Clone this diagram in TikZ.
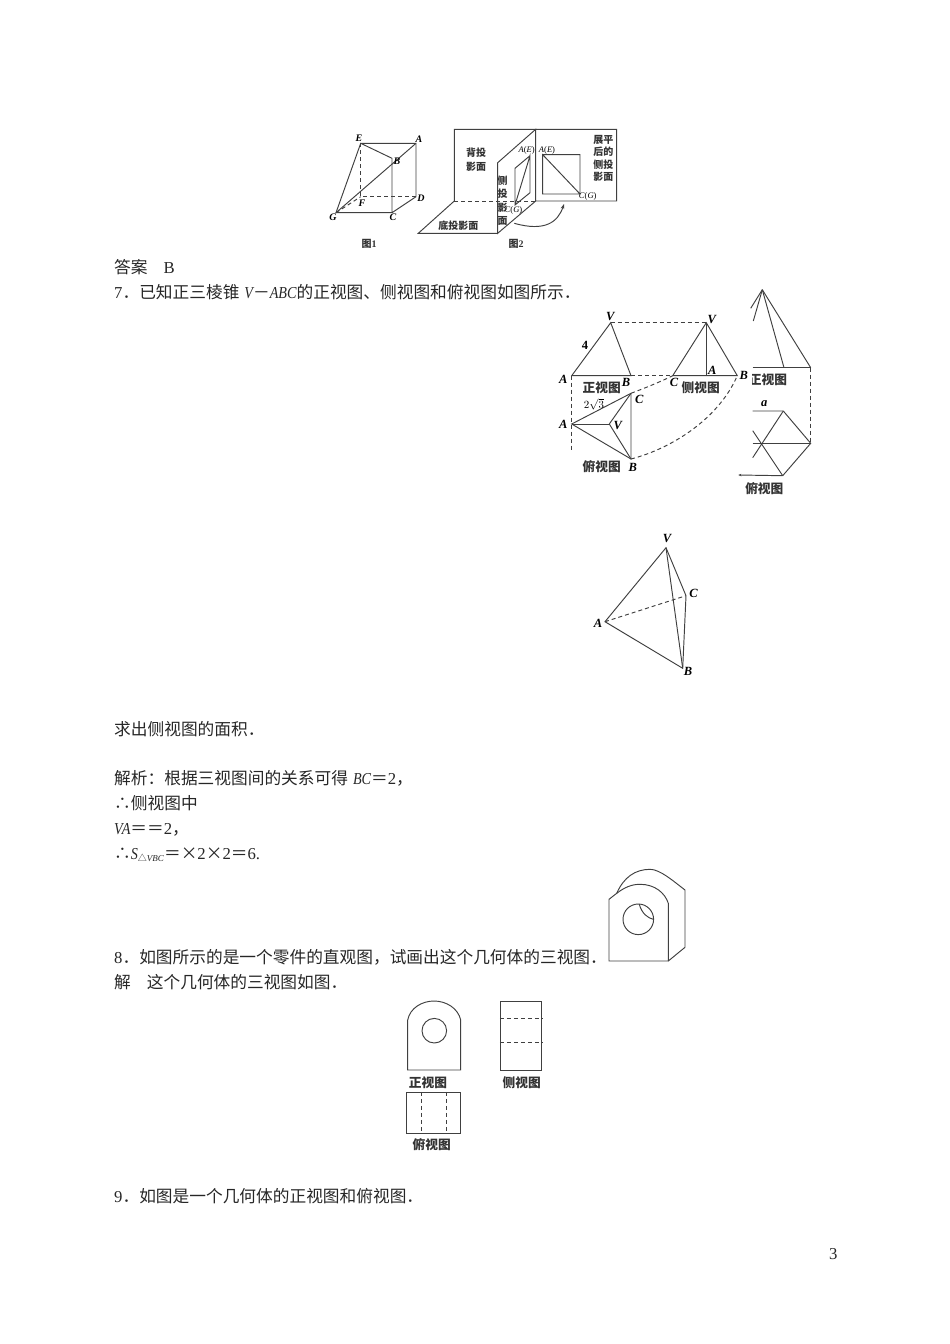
\documentclass[tikz,border=0pt]{standalone}
\usepackage{fontspec}
\usetikzlibrary{arrows.meta}
\setmainfont{Liberation Serif}
\newfontfamily\zhfont{Noto Sans CJK SC}
\newcommand{\zh}[1]{{\zhfont #1}}
\newcommand{\vx}[1]{{\bfseries\itshape #1}}
\newcommand{\lat}[1]{\scalebox{0.85}[1]{\itshape #1}}
\tikzset{
    lineb/.style={line width=0.95pt, black!75},
    dashb/.style={line width=0.95pt, black!75, dash pattern=on 4pt off 3pt},
    bodyline/.style={anchor=base west, inner sep=0pt, black!85, font=\fontsize{16.7}{18}\selectfont},
    vxsmall/.style={inner sep=0pt, font=\fontsize{10}{10}\selectfont},
    vxbig/.style={inner sep=0pt, font=\fontsize{12.5}{13}\selectfont},
    tagsmall/.style={inner sep=0pt, font=\fontsize{8.5}{9}\selectfont},
    capsmall/.style={inner sep=0pt, black!80, font=\fontsize{10}{10.5}\selectfont\bfseries, align=center},
    capbig/.style={inner sep=0pt, black!80, font=\fontsize{12.7}{13}\selectfont\bfseries}
}

\begin{document}
\begin{tikzpicture}[x=1pt, y=-1pt]
    \useasboundingbox (0,0) rectangle (950,1344);

    % Body text
    \node[bodyline] (ans) at (114,273.5) {\zh{答案}\hspace{16pt}B};
    \node[bodyline] (q7) at (114,298.5) {7\zh{．已知正三棱锥}\hspace{5pt}\lat{V}\zh{－}\lat{ABC}\zh{的正视图、侧视图和俯视图如图所示．}};
    \node[bodyline] (area) at (114,735) {\zh{求出侧视图的面积．}};
    \node[bodyline] (sol) at (114,784.5) {\zh{解析：根据三视图间的关系可得}\hspace{5pt}\lat{BC}\zh{＝}2\zh{，}};
    \node[bodyline] (tf1) at (114,809.5) {\zh{∴侧视图中}};
    \node[bodyline] (tf2) at (114,834) {\lat{VA}\zh{＝＝}2\zh{，}};
    \node[bodyline] (tf3) at (114,859) {\zh{∴}\lat{S}{\fontsize{9}{9}\selectfont\raisebox{-2pt}{\zh{△}\emph{VBC}}}\zh{＝×}2\zh{×}2\zh{＝}6.};
    \node[bodyline] (q8) at (114,963.5) {8\zh{．如图所示的是一个零件的直观图，试画出这个几何体的三视图．}};
    \node[bodyline] (ans8) at (114,988.5) {\zh{解}\hspace{16pt}\zh{这个几何体的三视图如图．}};
    \node[bodyline] (q9) at (114,1202.5) {9\zh{．如图是一个几何体的正视图和俯视图．}};
    \node[bodyline] (pagenum) at (829,1259.5) {3};

    % Figure 1: the cube
    \coordinate (E) at (360.7,143.3);
    \coordinate (A) at (416,143.3);
    \coordinate (B) at (392,158.3);
    \coordinate (G) at (336,212.7);
    \coordinate (C) at (392,212.7);
    \coordinate (D) at (416,196.7);
    \coordinate (F) at (360.7,196.7);
    \draw[lineb] (E) -- (A) -- (D) -- (C) -- (G) -- (E) -- (B) -- (C);
    \draw[lineb] (G) -- (A);
    \draw[dashb] (E) -- (F) -- (D);
    \draw[dashb] (G) -- (F);
    \foreach \name/\x/\y in {E/359/138, A/419/139, B/397/161, G/333/217, F/362/203, C/393/217, D/421/198} {
        \node[vxsmall] (lbl\name) at (\x,\y) {\vx{\name}};
    }
    \node[capsmall] (cap1) at (369,244) {\zh{图}1};

    % Figure 2: the projection planes
    \coordinate (backtl) at (454.3,129.3);
    \coordinate (backbl) at (454.3,201);
    \coordinate (foldt) at (535.7,129.3);
    \coordinate (foldb) at (535.7,201);
    \coordinate (righttr) at (616.7,129.3);
    \coordinate (rightbr) at (616.7,201);
    \coordinate (sidet) at (497.7,162.7);
    \coordinate (sideb) at (497.7,233.3);
    \coordinate (floorl) at (418.3,233.3);
    \draw[lineb] (backbl) -- (backtl) -- (righttr) -- (rightbr) -- (foldb) -- (foldt) -- (sidet) -- (sideb) -- (foldb);
    \draw[lineb] (backbl) -- (floorl) -- (sideb);
    \draw[dashb] (backbl) -- (foldb);
    \coordinate (pa) at (530,155.7);
    \coordinate (pb) at (515,168.3);
    \coordinate (pc) at (515,205);
    \coordinate (pd) at (530,192.7);
    \draw[lineb] (pa) -- (pb) -- (pc) -- (pd) -- (pa) -- (pc);
    \coordinate (sqa) at (542.7,154.7);
    \coordinate (sqb) at (580,154.7);
    \coordinate (sqc) at (580,194);
    \coordinate (sqd) at (542.7,194);
    \draw[lineb] (sqa) -- (sqb) -- (sqc) -- (sqd) -- (sqa) -- (sqc);
    \coordinate (arrfrom) at (514.3,223.3);
    \coordinate (arrto) at (564,204);
    \draw[lineb, -{Stealth[length=5pt,width=3.5pt]}] (arrfrom) .. controls (545,232) and (558,222) .. (arrto);
    \node[tagsmall] (aeone) at (526.7,150) {\emph{A}(\emph{E})};
    \node[tagsmall] (aetwo) at (547,150.7) {\emph{A}(\emph{E})};
    \node[tagsmall] (cgone) at (513.5,210.5) {\emph{C}(\emph{G})};
    \node[tagsmall] (cgtwo) at (587.7,196.3) {\emph{C}(\emph{G})};
    \node[capsmall] (backcap) at (476,159.7) {\zh{背投}\\[3pt]\zh{影面}};
    \node[capsmall] (sidecap) at (502.7,200.5) {\zh{侧}\\[3pt]\zh{投}\\[3pt]\zh{影}\\[3pt]\zh{面}};
    \node[capsmall] (flatcap) at (603.3,158.3) {\zh{展平}\\[2pt]\zh{后的}\\[2pt]\zh{侧投}\\[2pt]\zh{影面}};
    \node[capsmall] (floorcap) at (458.3,225.3) {\zh{底投影面}};
    \node[capsmall] (cap2) at (516,244.3) {\zh{图}2};

    % Question 7: front, side and top views
    \coordinate (fv) at (610.7,322.7);
    \coordinate (fa) at (571.7,375.7);
    \coordinate (fb) at (631,375.7);
    \coordinate (sv) at (706.3,322.7);
    \coordinate (sc) at (672.7,375.7);
    \coordinate (sa) at (706.3,375.7);
    \coordinate (sb) at (737.3,375.7);
    \coordinate (ta) at (571.7,424);
    \coordinate (tc) at (631,393.3);
    \coordinate (tb) at (631,459);
    \coordinate (tv) at (609.3,424);
    \coordinate (dashend) at (571.7,451.7);
    \draw[lineb] (fa) -- (fv) -- (fb) -- cycle;
    \draw[lineb] (sc) -- (sv) -- (sb) -- cycle;
    \draw[lineb] (sv) -- (sa);
    \draw[lineb] (ta) -- (tc) -- (tb) -- cycle;
    \foreach \corner in {ta, tb, tc} {
        \draw[lineb] (tv) -- (\corner);
    }
    \draw[dashb] (fv) -- (sv);
    \draw[dashb] (fb) -- (sc);
    \draw[dashb] (fa) -- (dashend);
    \draw[dashb] (tc) .. controls (645,388) and (660,382) .. (sc);
    \draw[dashb] (tb) .. controls (670,449) and (718,420) .. (sb);
    \foreach \name/\txt/\x/\y in {lfv/V/610.3/316, lfa/A/563.3/379, lfb/B/626/382.7, ltc/C/639.3/399, lta/A/563.3/424.3, ltv/V/617.7/425.3, ltb/B/632.7/467, lsv/V/711.7/319.3, lsa/A/712.3/370, lsc/C/674/382.7, lsb/B/743.7/375.7, lra/a/764.3/404} {
        \node[vxbig] (\name) at (\x,\y) {\vx{\txt}};
    }
    \node[vxbig] (lfour) at (585,345.7) {\bfseries 4};
    \node[vxbig] (lroot) at (594,404.5) {\fontsize{11}{12}\selectfont$2\sqrt{3}$};
    \node[capbig] (capfront) at (601.7,387.7) {\zh{正视图}};
    \node[capbig] (capside) at (700.7,387.3) {\zh{侧视图}};
    \node[capbig] (captop) at (601.7,467) {\zh{俯视图}};

    % Question 7: the cut-off views at the right
    \coordinate (rtop) at (762.3,289.7);
    \coordinate (rleftone) at (750.7,308.3);
    \coordinate (rlefttwo) at (753.3,321);
    \coordinate (rbasel) at (752.7,367.7);
    \coordinate (rbasem) at (784,367.7);
    \coordinate (rbaser) at (810.7,367.7);
    \coordinate (hextl) at (752.7,411);
    \coordinate (hext) at (783.3,411);
    \coordinate (hexr) at (810.7,443.3);
    \coordinate (hexb) at (782.7,475.7);
    \coordinate (hexml) at (752.7,443.3);
    \coordinate (hexdl) at (752.7,457.7);
    \coordinate (hexul) at (752.7,430.7);
    \coordinate (hextail) at (738.3,475);
    \draw[lineb] (rtop) -- (rleftone);
    \draw[lineb] (rtop) -- (rlefttwo);
    \draw[lineb] (rtop) -- (rbasem);
    \draw[lineb] (rtop) -- (rbaser);
    \draw[lineb] (rbasel) -- (rbaser);
    \draw[dashb] (rbaser) -- (hexr);
    \draw[lineb] (hextl) -- (hext) -- (hexr) -- (hexb);
    \draw[lineb] (hexml) -- (hexr);
    \draw[lineb] (hext) -- (hexdl);
    \draw[lineb] (hexb) -- (hexul);
    \draw[lineb, -{Stealth[length=3pt,width=2.5pt]}] (hexb) -- (hextail);
    \begin{scope}
        \clip (752.7,370) rectangle (800,392);
        \node[capbig] (capfrontcut) at (768,380) {\zh{正视图}};
    \end{scope}
    \node[capbig] (captopr) at (764.3,489) {\zh{俯视图}};

    % Question 7: the pyramid
    \coordinate (pv) at (666,547.7);
    \coordinate (pA) at (605,621.7);
    \coordinate (pC) at (686,595.7);
    \coordinate (pB) at (682.7,668.3);
    \draw[lineb] (pA) -- (pv) -- (pC) -- (pB) -- cycle;
    \draw[lineb] (pv) -- (pB);
    \draw[dashb] (pA) -- (pC);
    \foreach \name/\x/\y in {V/667/538, C/693.5/593, A/598/623, B/688/671} {
        \node[vxbig] (plbl\name) at (\x,\y) {\vx{\name}};
    }

    % Question 8: the part
    \coordinate (partbl) at (609,961);
    \coordinate (partbr) at (668.3,961);
    \coordinate (partr) at (668.3,903.3);
    \coordinate (partl) at (609,899.3);
    \coordinate (partj) at (616.7,893.3);
    \coordinate (partbackt) at (685,890);
    \coordinate (partbackb) at (685,947.3);
    \coordinate (hole) at (638.3,919.3);
    \coordinate (rimt) at (639.3,904.3);
    \coordinate (rimr) at (653.3,919.3);
    \draw[lineb] (partj) -- (partl) -- (partbl) -- (partbr) -- (partr) .. controls (665,893) and (655,884.3) .. (640,884.3) .. controls (632,884.3) and (625,887) .. (partj);
    \draw[lineb] (partj) .. controls (624,877) and (635,869.5) .. (650,869.3) .. controls (660,869.5) and (672,880) .. (partbackt) -- (partbackb) -- (partbr);
    \draw[lineb] (hole) circle (15.3);
    \draw[lineb] (rimt) .. controls (642,914) and (648,918) .. (rimr);

    % Question 8: its three views
    \coordinate (va) at (407.7,1070);
    \coordinate (vb) at (460.7,1070);
    \coordinate (vc) at (460.7,1020);
    \coordinate (vd) at (407.7,1020);
    \coordinate (vtop) at (434,1001);
    \coordinate (vhole) at (434.3,1030.7);
    \draw[lineb] (va) -- (vb) -- (vc) .. controls (458,1008) and (446,1001) .. (vtop) .. controls (422,1001) and (410,1008) .. (vd) -- cycle;
    \draw[lineb] (vhole) circle (12.3);
    \node[draw, lineb, inner sep=0pt, minimum width=41.4pt, minimum height=69pt] (sideview) at (521,1036.2) {};
    \node[draw, lineb, inner sep=0pt, minimum width=54pt, minimum height=41pt] (topview) at (433.7,1112.8) {};
    \draw[dashb] ([yshift=-17.5pt]sideview.north west) -- ([yshift=-17.5pt]sideview.north east);
    \draw[dashb] ([yshift=-41pt]sideview.north west) -- ([yshift=-41pt]sideview.north east);
    \draw[dashb] ([xshift=15pt]topview.north west) -- ([xshift=15pt]topview.south west);
    \draw[dashb] ([xshift=40pt]topview.north west) -- ([xshift=40pt]topview.south west);
    \node[capbig] (capv) at (428,1083) {\zh{正视图}};
    \node[capbig] (caps) at (521.7,1082.7) {\zh{侧视图}};
    \node[capbig] (capt) at (431.7,1144.7) {\zh{俯视图}};
\end{tikzpicture}
\end{document}
